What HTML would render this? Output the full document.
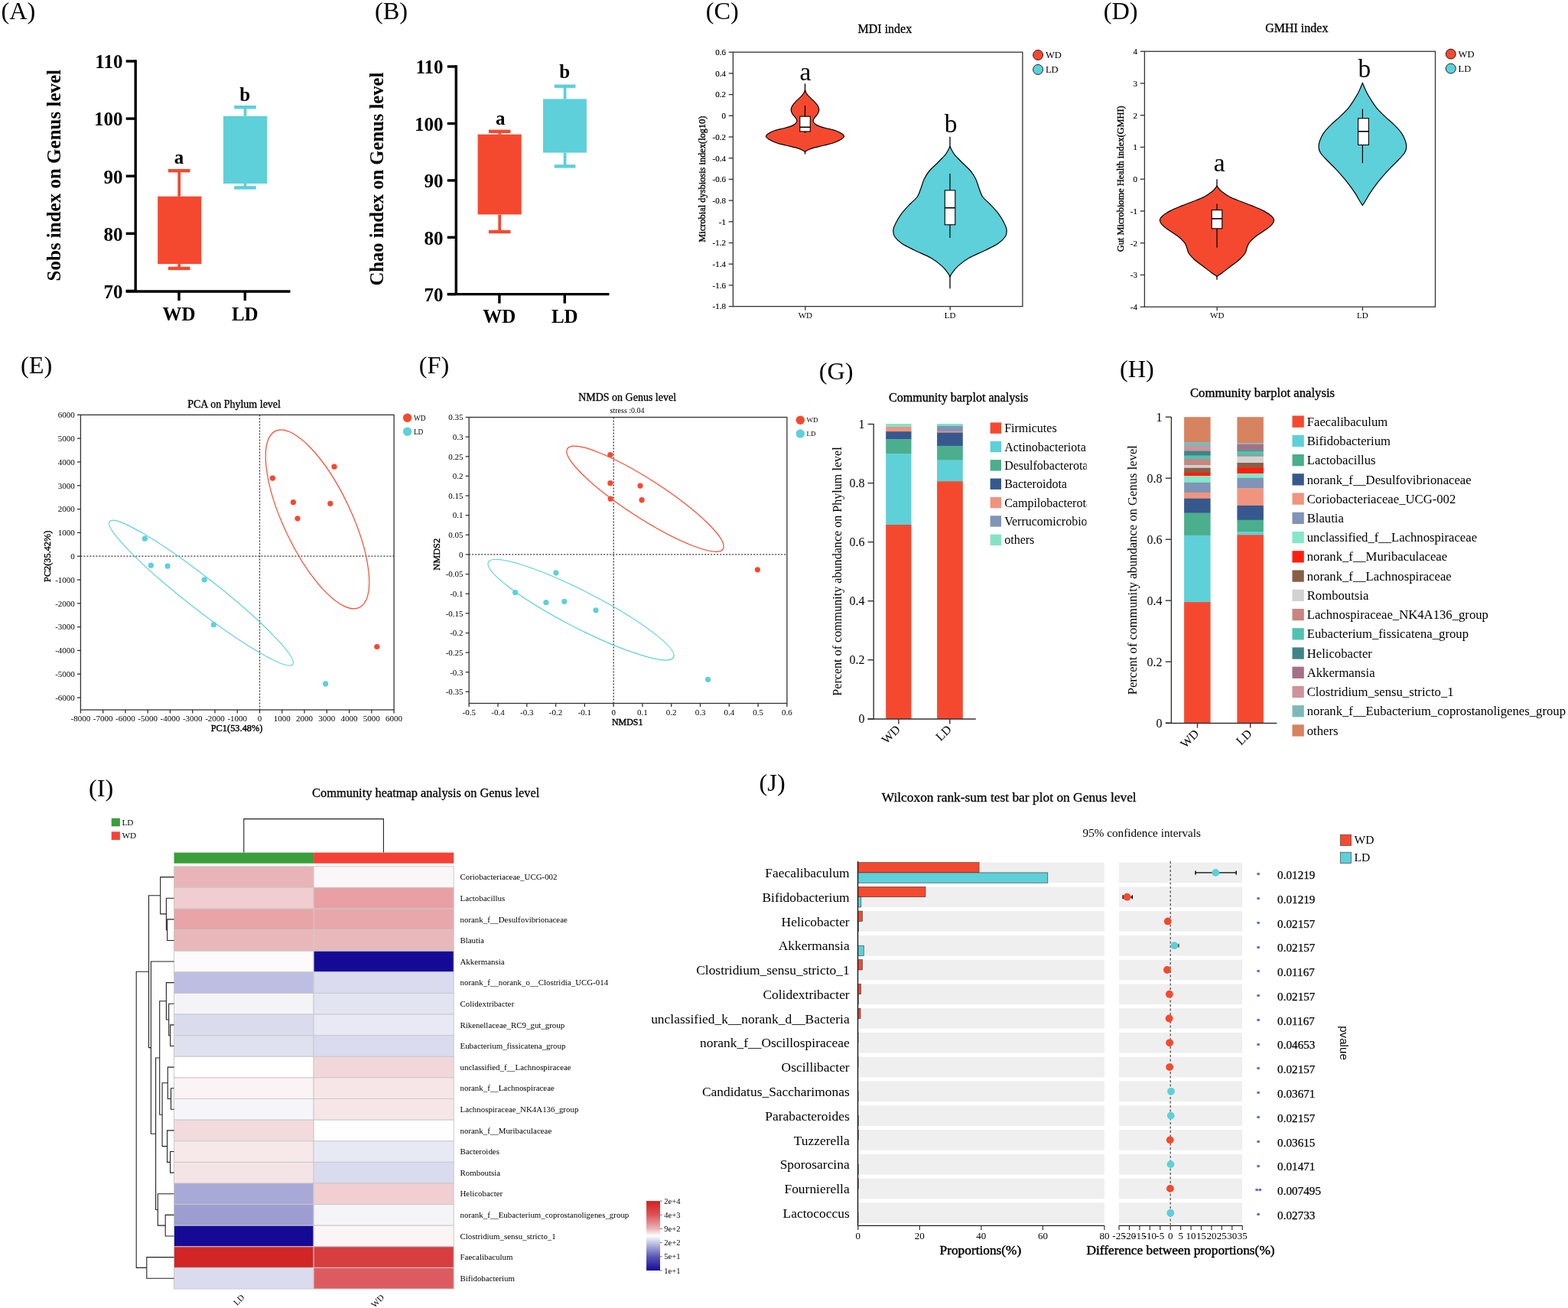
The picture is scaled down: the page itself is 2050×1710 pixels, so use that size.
<!DOCTYPE html>
<html><head><meta charset="utf-8"><title>Figure</title>
<style>
html,body{margin:0;padding:0;background:#fff;}
body{width:2050px;height:1710px;overflow:hidden;}
svg{display:block;}
text{font-family:'Liberation Serif','Times New Roman',serif;fill:#000;}
</style></head><body>
<svg width="2050" height="1710" viewBox="0 0 2050 1710">
<rect width="2050" height="1710" fill="#fff"/>
<text x="1.4" y="25" style="font-size:32.3px;">(A)</text>
<line x1="177.2" y1="78.3" x2="177.2" y2="381" stroke="#000" stroke-width="3.4"/>
<line x1="164.7" y1="381" x2="379.5" y2="381" stroke="#000" stroke-width="3.4"/>
<line x1="164.7" y1="80" x2="177.2" y2="80" stroke="#000" stroke-width="3.4"/>
<text x="160.4" y="89.3" text-anchor="end" style="font-size:25px;font-weight:bold;">110</text>
<line x1="164.7" y1="155.1" x2="177.2" y2="155.1" stroke="#000" stroke-width="3.4"/>
<text x="160.4" y="164.4" text-anchor="end" style="font-size:25px;font-weight:bold;">100</text>
<line x1="164.7" y1="230.2" x2="177.2" y2="230.2" stroke="#000" stroke-width="3.4"/>
<text x="160.4" y="239.5" text-anchor="end" style="font-size:25px;font-weight:bold;">90</text>
<line x1="164.7" y1="305.3" x2="177.2" y2="305.3" stroke="#000" stroke-width="3.4"/>
<text x="160.4" y="314.6" text-anchor="end" style="font-size:25px;font-weight:bold;">80</text>
<line x1="164.7" y1="380.4" x2="177.2" y2="380.4" stroke="#000" stroke-width="3.4"/>
<text x="160.4" y="389.7" text-anchor="end" style="font-size:25px;font-weight:bold;">70</text>
<line x1="234" y1="381" x2="234" y2="393" stroke="#000" stroke-width="3.4"/>
<text x="234" y="419.3" text-anchor="middle" style="font-size:25px;font-weight:bold;">WD</text>
<line x1="320.3" y1="381" x2="320.3" y2="393" stroke="#000" stroke-width="3.4"/>
<text x="320.3" y="419.3" text-anchor="middle" style="font-size:25px;font-weight:bold;">LD</text>
<text transform="translate(79.3 229.2) rotate(-90)" text-anchor="middle" style="font-size:25px;font-weight:bold;">Sobs index on Genus level</text>
<rect x="206.2" y="256.8" width="57.1" height="88.3" fill="#F5492F"/>
<line x1="234.2" y1="223.2" x2="234.2" y2="256.8" stroke="#F5492F" stroke-width="3.7"/>
<line x1="234.2" y1="345.1" x2="234.2" y2="350.9" stroke="#F5492F" stroke-width="3.7"/>
<line x1="219.9" y1="223.2" x2="248.5" y2="223.2" stroke="#F5492F" stroke-width="4.4"/>
<line x1="219.9" y1="350.9" x2="248.5" y2="350.9" stroke="#F5492F" stroke-width="4.4"/>
<text x="233.9" y="214.4" text-anchor="middle" style="font-size:25px;font-weight:bold;">a</text>
<rect x="292" y="151.8" width="57.1" height="88.2" fill="#5DD0D9"/>
<line x1="320.5" y1="140.2" x2="320.5" y2="151.8" stroke="#5DD0D9" stroke-width="3.7"/>
<line x1="320.5" y1="240" x2="320.5" y2="245.4" stroke="#5DD0D9" stroke-width="3.7"/>
<line x1="306.2" y1="140.2" x2="334.8" y2="140.2" stroke="#5DD0D9" stroke-width="4.4"/>
<line x1="306.2" y1="245.4" x2="334.8" y2="245.4" stroke="#5DD0D9" stroke-width="4.4"/>
<text x="320.3" y="132.4" text-anchor="middle" style="font-size:25px;font-weight:bold;">b</text>
<text x="490" y="24.8" style="font-size:32.3px;">(B)</text>
<line x1="596.3" y1="85.3" x2="596.3" y2="384.6" stroke="#000" stroke-width="3.4"/>
<line x1="584.8" y1="384.6" x2="796.5" y2="384.6" stroke="#000" stroke-width="3.4"/>
<line x1="584.8" y1="87" x2="596.3" y2="87" stroke="#000" stroke-width="3.4"/>
<text x="579.5" y="96.3" text-anchor="end" style="font-size:25px;font-weight:bold;">110</text>
<line x1="584.8" y1="161.5" x2="596.3" y2="161.5" stroke="#000" stroke-width="3.4"/>
<text x="579.5" y="170.8" text-anchor="end" style="font-size:25px;font-weight:bold;">100</text>
<line x1="584.8" y1="235.9" x2="596.3" y2="235.9" stroke="#000" stroke-width="3.4"/>
<text x="579.5" y="245.2" text-anchor="end" style="font-size:25px;font-weight:bold;">90</text>
<line x1="584.8" y1="310.3" x2="596.3" y2="310.3" stroke="#000" stroke-width="3.4"/>
<text x="579.5" y="319.6" text-anchor="end" style="font-size:25px;font-weight:bold;">80</text>
<line x1="584.8" y1="384.6" x2="596.3" y2="384.6" stroke="#000" stroke-width="3.4"/>
<text x="579.5" y="393.9" text-anchor="end" style="font-size:25px;font-weight:bold;">70</text>
<line x1="652.9" y1="384.6" x2="652.9" y2="396.6" stroke="#000" stroke-width="3.4"/>
<text x="652.9" y="421.9" text-anchor="middle" style="font-size:25px;font-weight:bold;">WD</text>
<line x1="738.3" y1="384.6" x2="738.3" y2="396.6" stroke="#000" stroke-width="3.4"/>
<text x="738.3" y="421.9" text-anchor="middle" style="font-size:25px;font-weight:bold;">LD</text>
<text transform="translate(501 234.1) rotate(-90)" text-anchor="middle" style="font-size:24.6px;font-weight:bold;">Chao index on Genus level</text>
<rect x="624.6" y="175.7" width="57.1" height="104.7" fill="#F5492F"/>
<line x1="653.2" y1="171.8" x2="653.2" y2="175.7" stroke="#F5492F" stroke-width="3.7"/>
<line x1="653.2" y1="280.4" x2="653.2" y2="303" stroke="#F5492F" stroke-width="3.7"/>
<line x1="638.95" y1="171.8" x2="667.45" y2="171.8" stroke="#F5492F" stroke-width="4.4"/>
<line x1="638.95" y1="303" x2="667.45" y2="303" stroke="#F5492F" stroke-width="4.4"/>
<text x="654.2" y="162.6" text-anchor="middle" style="font-size:25px;font-weight:bold;">a</text>
<rect x="710" y="129.4" width="56.9" height="70.2" fill="#5DD0D9"/>
<line x1="738.6" y1="112.7" x2="738.6" y2="129.4" stroke="#5DD0D9" stroke-width="3.7"/>
<line x1="738.6" y1="199.6" x2="738.6" y2="217.4" stroke="#5DD0D9" stroke-width="3.7"/>
<line x1="724.75" y1="112.7" x2="752.45" y2="112.7" stroke="#5DD0D9" stroke-width="4.4"/>
<line x1="724.75" y1="217.4" x2="752.45" y2="217.4" stroke="#5DD0D9" stroke-width="4.4"/>
<text x="738.3" y="101.6" text-anchor="middle" style="font-size:25px;font-weight:bold;">b</text>
<text x="922.7" y="25" style="font-size:32.3px;">(C)</text>
<text x="1156.9" y="42.5" text-anchor="middle" style="font-size:16px;" stroke="#000" stroke-width="0.3">MDI index</text>
<rect x="958.4" y="68.2" width="378.5" height="332.4" fill="none" stroke="#333" stroke-width="1.3"/>
<line x1="952.7" y1="68.2" x2="958.4" y2="68.2" stroke="#333" stroke-width="1.3"/>
<text x="949" y="72" text-anchor="end" style="font-size:11px;" stroke="#000" stroke-width="0.15">0.6</text>
<line x1="952.7" y1="95.9" x2="958.4" y2="95.9" stroke="#333" stroke-width="1.3"/>
<text x="949" y="99.7" text-anchor="end" style="font-size:11px;" stroke="#000" stroke-width="0.15">0.4</text>
<line x1="952.7" y1="123.6" x2="958.4" y2="123.6" stroke="#333" stroke-width="1.3"/>
<text x="949" y="127.4" text-anchor="end" style="font-size:11px;" stroke="#000" stroke-width="0.15">0.2</text>
<line x1="952.7" y1="151.3" x2="958.4" y2="151.3" stroke="#333" stroke-width="1.3"/>
<text x="949" y="155.1" text-anchor="end" style="font-size:11px;" stroke="#000" stroke-width="0.15">0</text>
<line x1="952.7" y1="179" x2="958.4" y2="179" stroke="#333" stroke-width="1.3"/>
<text x="949" y="182.8" text-anchor="end" style="font-size:11px;" stroke="#000" stroke-width="0.15">-0.2</text>
<line x1="952.7" y1="206.7" x2="958.4" y2="206.7" stroke="#333" stroke-width="1.3"/>
<text x="949" y="210.5" text-anchor="end" style="font-size:11px;" stroke="#000" stroke-width="0.15">-0.4</text>
<line x1="952.7" y1="234.4" x2="958.4" y2="234.4" stroke="#333" stroke-width="1.3"/>
<text x="949" y="238.2" text-anchor="end" style="font-size:11px;" stroke="#000" stroke-width="0.15">-0.6</text>
<line x1="952.7" y1="262.1" x2="958.4" y2="262.1" stroke="#333" stroke-width="1.3"/>
<text x="949" y="265.9" text-anchor="end" style="font-size:11px;" stroke="#000" stroke-width="0.15">-0.8</text>
<line x1="952.7" y1="289.8" x2="958.4" y2="289.8" stroke="#333" stroke-width="1.3"/>
<text x="949" y="293.6" text-anchor="end" style="font-size:11px;" stroke="#000" stroke-width="0.15">-1</text>
<line x1="952.7" y1="317.5" x2="958.4" y2="317.5" stroke="#333" stroke-width="1.3"/>
<text x="949" y="321.3" text-anchor="end" style="font-size:11px;" stroke="#000" stroke-width="0.15">-1.2</text>
<line x1="952.7" y1="345.2" x2="958.4" y2="345.2" stroke="#333" stroke-width="1.3"/>
<text x="949" y="349" text-anchor="end" style="font-size:11px;" stroke="#000" stroke-width="0.15">-1.4</text>
<line x1="952.7" y1="372.9" x2="958.4" y2="372.9" stroke="#333" stroke-width="1.3"/>
<text x="949" y="376.7" text-anchor="end" style="font-size:11px;" stroke="#000" stroke-width="0.15">-1.6</text>
<line x1="952.7" y1="400.6" x2="958.4" y2="400.6" stroke="#333" stroke-width="1.3"/>
<text x="949" y="404.4" text-anchor="end" style="font-size:11px;" stroke="#000" stroke-width="0.15">-1.8</text>
<line x1="1052.8" y1="400.6" x2="1052.8" y2="405.6" stroke="#333" stroke-width="1.3"/>
<text x="1052.8" y="415.6" text-anchor="middle" style="font-size:11px;">WD</text>
<line x1="1242.2" y1="400.6" x2="1242.2" y2="405.6" stroke="#333" stroke-width="1.3"/>
<text x="1242.2" y="415.6" text-anchor="middle" style="font-size:11px;">LD</text>
<text transform="translate(922.4 234.1) rotate(-90)" text-anchor="middle" style="font-size:12.4px;" stroke="#000" stroke-width="0.35">Microbial dysbiosis index(log10)</text>
<circle cx="1357.1" cy="71.9" r="6.5" fill="#F5492F" stroke="#111" stroke-width="0.9"/>
<circle cx="1357.1" cy="90.9" r="6.5" fill="#5DD0D9" stroke="#111" stroke-width="0.9"/>
<text x="1366.9" y="75.9" style="font-size:12.5px;">WD</text>
<text x="1366.9" y="94.9" style="font-size:12.5px;">LD</text>
<path d="M1052.5 117.4 C1052.77 118.08 1053.32 120.12 1054.1 121.5 C1054.88 122.88 1055.53 123.92 1057.2 125.7 C1058.87 127.48 1062.13 130.15 1064.1 132.2 C1066.07 134.25 1067.88 136.08 1069 138 C1070.12 139.92 1070.8 141.87 1070.8 143.7 C1070.8 145.53 1070.05 147.2 1069 149 C1067.95 150.8 1065.48 152.92 1064.5 154.5 C1063.52 156.08 1062.93 157.25 1063.1 158.5 C1063.27 159.75 1064.35 160.98 1065.5 162 C1066.65 163.02 1067.67 163.68 1070 164.6 C1072.33 165.52 1075.75 166.47 1079.5 167.5 C1083.25 168.53 1088.92 169.55 1092.5 170.8 C1096.08 172.05 1099.17 173.72 1101 175 C1102.83 176.28 1103.67 177.33 1103.5 178.5 C1103.33 179.67 1102.27 180.62 1100 182 C1097.73 183.38 1093.65 185.47 1089.9 186.8 C1086.15 188.13 1081.9 188.92 1077.5 190 C1073.1 191.08 1067 192.3 1063.5 193.3 C1060 194.3 1058.33 195.15 1056.5 196 C1054.67 196.85 1053.17 198 1052.5 198.4 C1051.83 198 1050.33 196.85 1048.5 196 C1046.67 195.15 1045 194.3 1041.5 193.3 C1038 192.3 1031.9 191.08 1027.5 190 C1023.1 188.92 1018.85 188.13 1015.1 186.8 C1011.35 185.47 1007.27 183.38 1005 182 C1002.73 180.62 1001.67 179.67 1001.5 178.5 C1001.33 177.33 1002.17 176.28 1004 175 C1005.83 173.72 1008.92 172.05 1012.5 170.8 C1016.08 169.55 1021.75 168.53 1025.5 167.5 C1029.25 166.47 1032.67 165.52 1035 164.6 C1037.33 163.68 1038.35 163.02 1039.5 162 C1040.65 160.98 1041.73 159.75 1041.9 158.5 C1042.07 157.25 1041.48 156.08 1040.5 154.5 C1039.52 152.92 1037.05 150.8 1036 149 C1034.95 147.2 1034.2 145.53 1034.2 143.7 C1034.2 141.87 1034.88 139.92 1036 138 C1037.12 136.08 1038.93 134.25 1040.9 132.2 C1042.87 130.15 1046.13 127.48 1047.8 125.7 C1049.47 123.92 1050.12 122.88 1050.9 121.5 C1051.68 120.12 1052.23 118.08 1052.5 117.4 Z" fill="#F5492F" stroke="#000" stroke-width="1.2"/>
<line x1="1052.5" y1="109.3" x2="1052.5" y2="117.9" stroke="#000" stroke-width="1.3"/>
<line x1="1052.5" y1="197.9" x2="1052.5" y2="201.6" stroke="#000" stroke-width="1.3"/>
<line x1="1052.5" y1="138" x2="1052.5" y2="152.2" stroke="#000" stroke-width="1.2"/>
<line x1="1052.5" y1="171.9" x2="1052.5" y2="174" stroke="#000" stroke-width="1.2"/>
<rect x="1045.8" y="152.2" width="13.5" height="19.7" fill="#fff" stroke="#000" stroke-width="1.1"/>
<line x1="1045.8" y1="166.3" x2="1059.3" y2="166.3" stroke="#000" stroke-width="1.6"/>
<path d="M1242 191.5 C1242.37 192.25 1243.2 194.22 1244.2 196 C1245.2 197.78 1246.62 200.37 1248 202.2 C1249.38 204.03 1250.87 205.28 1252.5 207 C1254.13 208.72 1254.98 209.67 1257.8 212.5 C1260.62 215.33 1266.4 220.37 1269.4 224 C1272.4 227.63 1273.97 230.43 1275.8 234.3 C1277.63 238.17 1278.88 243.33 1280.4 247.2 C1281.92 251.07 1282.65 254.28 1284.9 257.5 C1287.15 260.72 1290.48 262.85 1293.9 266.5 C1297.32 270.15 1302.18 275.1 1305.4 279.4 C1308.62 283.7 1311.42 288.77 1313.2 292.3 C1314.98 295.83 1315.88 297.82 1316.1 300.6 C1316.32 303.38 1316.28 306.1 1314.5 309 C1312.72 311.9 1309.7 315 1305.4 318 C1301.1 321 1295.13 323.78 1288.7 327 C1282.27 330.22 1272.8 333.87 1266.8 337.3 C1260.8 340.73 1256.33 344.38 1252.7 347.6 C1249.07 350.82 1246.78 354.25 1245 356.6 C1243.22 358.95 1242.5 360.85 1242 361.7 C1241.5 360.85 1240.78 358.95 1239 356.6 C1237.22 354.25 1234.93 350.82 1231.3 347.6 C1227.67 344.38 1223.2 340.73 1217.2 337.3 C1211.2 333.87 1201.73 330.22 1195.3 327 C1188.87 323.78 1182.9 321 1178.6 318 C1174.3 315 1171.28 311.9 1169.5 309 C1167.72 306.1 1167.68 303.38 1167.9 300.6 C1168.12 297.82 1169.02 295.83 1170.8 292.3 C1172.58 288.77 1175.38 283.7 1178.6 279.4 C1181.82 275.1 1186.68 270.15 1190.1 266.5 C1193.52 262.85 1196.85 260.72 1199.1 257.5 C1201.35 254.28 1202.08 251.07 1203.6 247.2 C1205.12 243.33 1206.37 238.17 1208.2 234.3 C1210.03 230.43 1211.6 227.63 1214.6 224 C1217.6 220.37 1223.38 215.33 1226.2 212.5 C1229.02 209.67 1229.87 208.72 1231.5 207 C1233.13 205.28 1234.62 204.03 1236 202.2 C1237.38 200.37 1238.8 197.78 1239.8 196 C1240.8 194.22 1241.63 192.25 1242 191.5 Z" fill="#5DD0D9" stroke="#000" stroke-width="1.2"/>
<line x1="1242" y1="178.8" x2="1242" y2="192" stroke="#000" stroke-width="1.3"/>
<line x1="1242" y1="361.2" x2="1242" y2="377.2" stroke="#000" stroke-width="1.3"/>
<line x1="1242" y1="227" x2="1242" y2="248.8" stroke="#000" stroke-width="1.2"/>
<line x1="1242" y1="293.8" x2="1242" y2="310.9" stroke="#000" stroke-width="1.2"/>
<rect x="1235.3" y="248.8" width="13.5" height="45" fill="#fff" stroke="#000" stroke-width="1.1"/>
<line x1="1235.3" y1="271.7" x2="1248.8" y2="271.7" stroke="#000" stroke-width="1.6"/>
<text x="1053" y="104.6" text-anchor="middle" style="font-size:33.5px;">a</text>
<text x="1243" y="173.4" text-anchor="middle" style="font-size:33.5px;">b</text>
<text x="1442.7" y="25" style="font-size:32.3px;">(D)</text>
<text x="1695.3" y="41.6" text-anchor="middle" style="font-size:16px;" stroke="#000" stroke-width="0.3">GMHI index</text>
<rect x="1496.4" y="67.2" width="380.1" height="334" fill="none" stroke="#333" stroke-width="1.3"/>
<line x1="1490.7" y1="67.2" x2="1496.4" y2="67.2" stroke="#333" stroke-width="1.3"/>
<text x="1487" y="71" text-anchor="end" style="font-size:11px;" stroke="#000" stroke-width="0.15">4</text>
<line x1="1490.7" y1="108.95" x2="1496.4" y2="108.95" stroke="#333" stroke-width="1.3"/>
<text x="1487" y="112.75" text-anchor="end" style="font-size:11px;" stroke="#000" stroke-width="0.15">3</text>
<line x1="1490.7" y1="150.7" x2="1496.4" y2="150.7" stroke="#333" stroke-width="1.3"/>
<text x="1487" y="154.5" text-anchor="end" style="font-size:11px;" stroke="#000" stroke-width="0.15">2</text>
<line x1="1490.7" y1="192.45" x2="1496.4" y2="192.45" stroke="#333" stroke-width="1.3"/>
<text x="1487" y="196.25" text-anchor="end" style="font-size:11px;" stroke="#000" stroke-width="0.15">1</text>
<line x1="1490.7" y1="234.2" x2="1496.4" y2="234.2" stroke="#333" stroke-width="1.3"/>
<text x="1487" y="238" text-anchor="end" style="font-size:11px;" stroke="#000" stroke-width="0.15">0</text>
<line x1="1490.7" y1="275.95" x2="1496.4" y2="275.95" stroke="#333" stroke-width="1.3"/>
<text x="1487" y="279.75" text-anchor="end" style="font-size:11px;" stroke="#000" stroke-width="0.15">-1</text>
<line x1="1490.7" y1="317.7" x2="1496.4" y2="317.7" stroke="#333" stroke-width="1.3"/>
<text x="1487" y="321.5" text-anchor="end" style="font-size:11px;" stroke="#000" stroke-width="0.15">-2</text>
<line x1="1490.7" y1="359.45" x2="1496.4" y2="359.45" stroke="#333" stroke-width="1.3"/>
<text x="1487" y="363.25" text-anchor="end" style="font-size:11px;" stroke="#000" stroke-width="0.15">-3</text>
<line x1="1490.7" y1="401.2" x2="1496.4" y2="401.2" stroke="#333" stroke-width="1.3"/>
<text x="1487" y="405" text-anchor="end" style="font-size:11px;" stroke="#000" stroke-width="0.15">-4</text>
<line x1="1591.2" y1="401.2" x2="1591.2" y2="406.2" stroke="#333" stroke-width="1.3"/>
<text x="1591.2" y="416.2" text-anchor="middle" style="font-size:11px;">WD</text>
<line x1="1781.4" y1="401.2" x2="1781.4" y2="406.2" stroke="#333" stroke-width="1.3"/>
<text x="1781.4" y="416.2" text-anchor="middle" style="font-size:11px;">LD</text>
<text transform="translate(1468.5 233.8) rotate(-90)" text-anchor="middle" style="font-size:12.4px;" stroke="#000" stroke-width="0.35">Gut Microbiome Health index(GMHI)</text>
<circle cx="1896.8" cy="70.6" r="6.5" fill="#F5492F" stroke="#111" stroke-width="0.9"/>
<circle cx="1896.8" cy="89.6" r="6.5" fill="#5DD0D9" stroke="#111" stroke-width="0.9"/>
<text x="1906.6" y="74.6" style="font-size:12.5px;">WD</text>
<text x="1906.6" y="93.6" style="font-size:12.5px;">LD</text>
<path d="M1591 243.2 C1591.42 243.75 1592.43 245.3 1593.5 246.5 C1594.57 247.7 1595.07 248.62 1597.4 250.4 C1599.73 252.18 1603.42 255.07 1607.5 257.2 C1611.58 259.33 1616.95 261.22 1621.9 263.2 C1626.85 265.18 1632.1 266.98 1637.2 269.1 C1642.3 271.22 1648.27 273.63 1652.5 275.9 C1656.73 278.17 1660.42 280.73 1662.6 282.7 C1664.78 284.67 1665.45 286.02 1665.6 287.7 C1665.75 289.38 1665.12 290.82 1663.5 292.8 C1661.88 294.78 1659.3 297.05 1655.9 299.6 C1652.5 302.15 1646.78 305.27 1643.1 308.1 C1639.42 310.93 1635.92 314.05 1633.8 316.6 C1631.68 319.15 1631.38 321 1630.4 323.4 C1629.42 325.8 1629.58 328.32 1627.9 331 C1626.22 333.68 1623.42 336.68 1620.3 339.5 C1617.18 342.32 1612.88 345.08 1609.2 347.9 C1605.52 350.72 1600.82 354.47 1598.2 356.4 C1595.58 358.33 1594.7 358.65 1593.5 359.5 C1592.3 360.35 1591.42 361.17 1591 361.5 C1590.58 361.17 1589.7 360.35 1588.5 359.5 C1587.3 358.65 1586.42 358.33 1583.8 356.4 C1581.18 354.47 1576.48 350.72 1572.8 347.9 C1569.12 345.08 1564.82 342.32 1561.7 339.5 C1558.58 336.68 1555.78 333.68 1554.1 331 C1552.42 328.32 1552.58 325.8 1551.6 323.4 C1550.62 321 1550.32 319.15 1548.2 316.6 C1546.08 314.05 1542.58 310.93 1538.9 308.1 C1535.22 305.27 1529.5 302.15 1526.1 299.6 C1522.7 297.05 1520.12 294.78 1518.5 292.8 C1516.88 290.82 1516.25 289.38 1516.4 287.7 C1516.55 286.02 1517.22 284.67 1519.4 282.7 C1521.58 280.73 1525.27 278.17 1529.5 275.9 C1533.73 273.63 1539.7 271.22 1544.8 269.1 C1549.9 266.98 1555.15 265.18 1560.1 263.2 C1565.05 261.22 1570.42 259.33 1574.5 257.2 C1578.58 255.07 1582.27 252.18 1584.6 250.4 C1586.93 248.62 1587.43 247.7 1588.5 246.5 C1589.57 245.3 1590.58 243.75 1591 243.2 Z" fill="#F5492F" stroke="#000" stroke-width="1.2"/>
<line x1="1591" y1="234.2" x2="1591" y2="243.7" stroke="#000" stroke-width="1.3"/>
<line x1="1591" y1="361" x2="1591" y2="365.8" stroke="#000" stroke-width="1.3"/>
<line x1="1591" y1="266.5" x2="1591" y2="274.6" stroke="#000" stroke-width="1.2"/>
<line x1="1591" y1="298.8" x2="1591" y2="323.8" stroke="#000" stroke-width="1.2"/>
<rect x="1584.2" y="274.6" width="13.6" height="24.2" fill="#fff" stroke="#000" stroke-width="1.1"/>
<line x1="1584.2" y1="285.9" x2="1597.8" y2="285.9" stroke="#000" stroke-width="1.6"/>
<path d="M1781.4 108.4 C1782.32 110.52 1784.93 117.23 1786.9 121.1 C1788.87 124.97 1790.92 128.1 1793.2 131.6 C1795.48 135.1 1797.62 138.6 1800.6 142.1 C1803.58 145.6 1807.42 149.08 1811.1 152.6 C1814.78 156.12 1819.2 159.68 1822.7 163.2 C1826.2 166.72 1829.65 170.2 1832.1 173.7 C1834.55 177.2 1836.3 181.05 1837.4 184.2 C1838.5 187.35 1838.88 189.97 1838.7 192.6 C1838.52 195.23 1838.27 197.02 1836.3 200 C1834.33 202.98 1830.23 206.98 1826.9 210.5 C1823.57 214.02 1819.63 217.58 1816.3 221.1 C1812.97 224.62 1809.87 228.1 1806.9 231.6 C1803.93 235.1 1801.13 238.6 1798.5 242.1 C1795.87 245.6 1793.38 249.08 1791.1 252.6 C1788.82 256.12 1786.42 260.57 1784.8 263.2 C1783.18 265.83 1781.97 267.53 1781.4 268.4 C1780.83 267.53 1779.62 265.83 1778 263.2 C1776.38 260.57 1773.98 256.12 1771.7 252.6 C1769.42 249.08 1766.93 245.6 1764.3 242.1 C1761.67 238.6 1758.87 235.1 1755.9 231.6 C1752.93 228.1 1749.83 224.62 1746.5 221.1 C1743.17 217.58 1739.23 214.02 1735.9 210.5 C1732.57 206.98 1728.47 202.98 1726.5 200 C1724.53 197.02 1724.28 195.23 1724.1 192.6 C1723.92 189.97 1724.3 187.35 1725.4 184.2 C1726.5 181.05 1728.25 177.2 1730.7 173.7 C1733.15 170.2 1736.6 166.72 1740.1 163.2 C1743.6 159.68 1748.02 156.12 1751.7 152.6 C1755.38 149.08 1759.22 145.6 1762.2 142.1 C1765.18 138.6 1767.32 135.1 1769.6 131.6 C1771.88 128.1 1773.93 124.97 1775.9 121.1 C1777.87 117.23 1780.48 110.52 1781.4 108.4 Z" fill="#5DD0D9" stroke="#000" stroke-width="1.2"/>
<line x1="1781.4" y1="142.6" x2="1781.4" y2="154.7" stroke="#000" stroke-width="1.2"/>
<line x1="1781.4" y1="189.5" x2="1781.4" y2="213.2" stroke="#000" stroke-width="1.2"/>
<rect x="1775.6" y="154.7" width="13.8" height="34.8" fill="#fff" stroke="#000" stroke-width="1.1"/>
<line x1="1775.6" y1="171.8" x2="1789.4" y2="171.8" stroke="#000" stroke-width="1.6"/>
<text x="1594.3" y="223.6" text-anchor="middle" style="font-size:33.5px;">a</text>
<text x="1783.8" y="101.2" text-anchor="middle" style="font-size:33.5px;">b</text>
<text x="26.95" y="487.6" style="font-size:32.3px;">(E)</text>
<rect x="105.4" y="542.4" width="409.7" height="385.6" fill="none" stroke="#333" stroke-width="1.3"/>
<line x1="339.5" y1="542.4" x2="339.5" y2="928" stroke="#333" stroke-width="1.3" stroke-dasharray="2 2"/>
<line x1="105.4" y1="727.2" x2="515.1" y2="727.2" stroke="#333" stroke-width="1.3" stroke-dasharray="2 2"/>
<line x1="105.4" y1="928" x2="105.4" y2="932.5" stroke="#333" stroke-width="1.3"/>
<text x="105.4" y="943" text-anchor="middle" style="font-size:11px;">-8000</text>
<line x1="134.66" y1="928" x2="134.66" y2="932.5" stroke="#333" stroke-width="1.3"/>
<text x="134.66" y="943" text-anchor="middle" style="font-size:11px;">-7000</text>
<line x1="163.93" y1="928" x2="163.93" y2="932.5" stroke="#333" stroke-width="1.3"/>
<text x="163.93" y="943" text-anchor="middle" style="font-size:11px;">-6000</text>
<line x1="193.19" y1="928" x2="193.19" y2="932.5" stroke="#333" stroke-width="1.3"/>
<text x="193.19" y="943" text-anchor="middle" style="font-size:11px;">-5000</text>
<line x1="222.46" y1="928" x2="222.46" y2="932.5" stroke="#333" stroke-width="1.3"/>
<text x="222.46" y="943" text-anchor="middle" style="font-size:11px;">-4000</text>
<line x1="251.72" y1="928" x2="251.72" y2="932.5" stroke="#333" stroke-width="1.3"/>
<text x="251.72" y="943" text-anchor="middle" style="font-size:11px;">-3000</text>
<line x1="280.98" y1="928" x2="280.98" y2="932.5" stroke="#333" stroke-width="1.3"/>
<text x="280.98" y="943" text-anchor="middle" style="font-size:11px;">-2000</text>
<line x1="310.25" y1="928" x2="310.25" y2="932.5" stroke="#333" stroke-width="1.3"/>
<text x="310.25" y="943" text-anchor="middle" style="font-size:11px;">-1000</text>
<line x1="339.51" y1="928" x2="339.51" y2="932.5" stroke="#333" stroke-width="1.3"/>
<text x="339.51" y="943" text-anchor="middle" style="font-size:11px;">0</text>
<line x1="368.78" y1="928" x2="368.78" y2="932.5" stroke="#333" stroke-width="1.3"/>
<text x="368.78" y="943" text-anchor="middle" style="font-size:11px;">1000</text>
<line x1="398.04" y1="928" x2="398.04" y2="932.5" stroke="#333" stroke-width="1.3"/>
<text x="398.04" y="943" text-anchor="middle" style="font-size:11px;">2000</text>
<line x1="427.3" y1="928" x2="427.3" y2="932.5" stroke="#333" stroke-width="1.3"/>
<text x="427.3" y="943" text-anchor="middle" style="font-size:11px;">3000</text>
<line x1="456.57" y1="928" x2="456.57" y2="932.5" stroke="#333" stroke-width="1.3"/>
<text x="456.57" y="943" text-anchor="middle" style="font-size:11px;">4000</text>
<line x1="485.83" y1="928" x2="485.83" y2="932.5" stroke="#333" stroke-width="1.3"/>
<text x="485.83" y="943" text-anchor="middle" style="font-size:11px;">5000</text>
<line x1="515.1" y1="928" x2="515.1" y2="932.5" stroke="#333" stroke-width="1.3"/>
<text x="515.1" y="943" text-anchor="middle" style="font-size:11px;">6000</text>
<line x1="100.9" y1="542.34" x2="105.4" y2="542.34" stroke="#333" stroke-width="1.3"/>
<text x="97.8" y="546.14" text-anchor="end" style="font-size:11px;">6000</text>
<line x1="100.9" y1="573.15" x2="105.4" y2="573.15" stroke="#333" stroke-width="1.3"/>
<text x="97.8" y="576.95" text-anchor="end" style="font-size:11px;">5000</text>
<line x1="100.9" y1="603.96" x2="105.4" y2="603.96" stroke="#333" stroke-width="1.3"/>
<text x="97.8" y="607.76" text-anchor="end" style="font-size:11px;">4000</text>
<line x1="100.9" y1="634.77" x2="105.4" y2="634.77" stroke="#333" stroke-width="1.3"/>
<text x="97.8" y="638.57" text-anchor="end" style="font-size:11px;">3000</text>
<line x1="100.9" y1="665.58" x2="105.4" y2="665.58" stroke="#333" stroke-width="1.3"/>
<text x="97.8" y="669.38" text-anchor="end" style="font-size:11px;">2000</text>
<line x1="100.9" y1="696.39" x2="105.4" y2="696.39" stroke="#333" stroke-width="1.3"/>
<text x="97.8" y="700.19" text-anchor="end" style="font-size:11px;">1000</text>
<line x1="100.9" y1="727.2" x2="105.4" y2="727.2" stroke="#333" stroke-width="1.3"/>
<text x="97.8" y="731" text-anchor="end" style="font-size:11px;">0</text>
<line x1="100.9" y1="758.01" x2="105.4" y2="758.01" stroke="#333" stroke-width="1.3"/>
<text x="97.8" y="761.81" text-anchor="end" style="font-size:11px;">-1000</text>
<line x1="100.9" y1="788.82" x2="105.4" y2="788.82" stroke="#333" stroke-width="1.3"/>
<text x="97.8" y="792.62" text-anchor="end" style="font-size:11px;">-2000</text>
<line x1="100.9" y1="819.63" x2="105.4" y2="819.63" stroke="#333" stroke-width="1.3"/>
<text x="97.8" y="823.43" text-anchor="end" style="font-size:11px;">-3000</text>
<line x1="100.9" y1="850.44" x2="105.4" y2="850.44" stroke="#333" stroke-width="1.3"/>
<text x="97.8" y="854.24" text-anchor="end" style="font-size:11px;">-4000</text>
<line x1="100.9" y1="881.25" x2="105.4" y2="881.25" stroke="#333" stroke-width="1.3"/>
<text x="97.8" y="885.05" text-anchor="end" style="font-size:11px;">-5000</text>
<line x1="100.9" y1="912.06" x2="105.4" y2="912.06" stroke="#333" stroke-width="1.3"/>
<text x="97.8" y="915.86" text-anchor="end" style="font-size:11px;">-6000</text>
<text x="306.1" y="533.1" text-anchor="middle" style="font-size:14px;" stroke="#000" stroke-width="0.3">PCA on Phylum level</text>
<text x="309.6" y="955.7" text-anchor="middle" style="font-size:12.4px;" stroke="#000" stroke-width="0.4">PC1(53.48%)</text>
<text transform="translate(65.7 727.3) rotate(-90)" text-anchor="middle" style="font-size:12.3px;" stroke="#000" stroke-width="0.4">PC2(35.42%)</text>
<ellipse cx="0" cy="0" rx="127.8" ry="44.1" fill="none" stroke="#F5492F" stroke-width="1.2" transform="translate(415 678.8) rotate(64.6)"/>
<ellipse cx="0" cy="0" rx="151.9" ry="20.6" fill="none" stroke="#5DD0D9" stroke-width="1.2" transform="translate(263 775.2) rotate(38)"/>
<circle cx="356.4" cy="625.1" r="3.6" fill="#F5492F"/>
<circle cx="437" cy="610.2" r="3.6" fill="#F5492F"/>
<circle cx="383.4" cy="656.7" r="3.6" fill="#F5492F"/>
<circle cx="431.8" cy="658.3" r="3.6" fill="#F5492F"/>
<circle cx="389" cy="677.8" r="3.6" fill="#F5492F"/>
<circle cx="492.8" cy="845.5" r="3.6" fill="#F5492F"/>
<circle cx="189.4" cy="704.2" r="3.6" fill="#5DD0D9"/>
<circle cx="197.4" cy="739.2" r="3.6" fill="#5DD0D9"/>
<circle cx="219.1" cy="740.1" r="3.6" fill="#5DD0D9"/>
<circle cx="267.2" cy="757.8" r="3.6" fill="#5DD0D9"/>
<circle cx="279.3" cy="816.7" r="3.6" fill="#5DD0D9"/>
<circle cx="425.6" cy="893.9" r="3.6" fill="#5DD0D9"/>
<circle cx="532.6" cy="546.3" r="5.7" fill="#F5492F"/>
<circle cx="532.6" cy="564.2" r="5.7" fill="#5DD0D9"/>
<text x="540.9" y="549.5" style="font-size:9.3px;">WD</text>
<text x="540.9" y="567.5" style="font-size:9.3px;">LD</text>
<text x="547.7" y="487.6" style="font-size:32.3px;">(F)</text>
<rect x="613.2" y="545.5" width="415.7" height="374" fill="none" stroke="#333" stroke-width="1.3"/>
<line x1="802.2" y1="545.5" x2="802.2" y2="919.5" stroke="#333" stroke-width="1.3" stroke-dasharray="2 2"/>
<line x1="613.2" y1="724.95" x2="1028.9" y2="724.95" stroke="#333" stroke-width="1.3" stroke-dasharray="2 2"/>
<line x1="613.2" y1="919.5" x2="613.2" y2="924" stroke="#333" stroke-width="1.3"/>
<text x="613.2" y="934.5" text-anchor="middle" style="font-size:11px;">-0.5</text>
<line x1="650.99" y1="919.5" x2="650.99" y2="924" stroke="#333" stroke-width="1.3"/>
<text x="650.99" y="934.5" text-anchor="middle" style="font-size:11px;">-0.4</text>
<line x1="688.78" y1="919.5" x2="688.78" y2="924" stroke="#333" stroke-width="1.3"/>
<text x="688.78" y="934.5" text-anchor="middle" style="font-size:11px;">-0.3</text>
<line x1="726.57" y1="919.5" x2="726.57" y2="924" stroke="#333" stroke-width="1.3"/>
<text x="726.57" y="934.5" text-anchor="middle" style="font-size:11px;">-0.2</text>
<line x1="764.36" y1="919.5" x2="764.36" y2="924" stroke="#333" stroke-width="1.3"/>
<text x="764.36" y="934.5" text-anchor="middle" style="font-size:11px;">-0.1</text>
<line x1="802.15" y1="919.5" x2="802.15" y2="924" stroke="#333" stroke-width="1.3"/>
<text x="802.15" y="934.5" text-anchor="middle" style="font-size:11px;">0</text>
<line x1="839.94" y1="919.5" x2="839.94" y2="924" stroke="#333" stroke-width="1.3"/>
<text x="839.94" y="934.5" text-anchor="middle" style="font-size:11px;">0.1</text>
<line x1="877.73" y1="919.5" x2="877.73" y2="924" stroke="#333" stroke-width="1.3"/>
<text x="877.73" y="934.5" text-anchor="middle" style="font-size:11px;">0.2</text>
<line x1="915.52" y1="919.5" x2="915.52" y2="924" stroke="#333" stroke-width="1.3"/>
<text x="915.52" y="934.5" text-anchor="middle" style="font-size:11px;">0.3</text>
<line x1="953.31" y1="919.5" x2="953.31" y2="924" stroke="#333" stroke-width="1.3"/>
<text x="953.31" y="934.5" text-anchor="middle" style="font-size:11px;">0.4</text>
<line x1="991.1" y1="919.5" x2="991.1" y2="924" stroke="#333" stroke-width="1.3"/>
<text x="991.1" y="934.5" text-anchor="middle" style="font-size:11px;">0.5</text>
<line x1="1028.89" y1="919.5" x2="1028.89" y2="924" stroke="#333" stroke-width="1.3"/>
<text x="1028.89" y="934.5" text-anchor="middle" style="font-size:11px;">0.6</text>
<line x1="608.7" y1="545.5" x2="613.2" y2="545.5" stroke="#333" stroke-width="1.3"/>
<text x="605.6" y="549.3" text-anchor="end" style="font-size:11px;">0.35</text>
<line x1="608.7" y1="571.14" x2="613.2" y2="571.14" stroke="#333" stroke-width="1.3"/>
<text x="605.6" y="574.94" text-anchor="end" style="font-size:11px;">0.3</text>
<line x1="608.7" y1="596.77" x2="613.2" y2="596.77" stroke="#333" stroke-width="1.3"/>
<text x="605.6" y="600.57" text-anchor="end" style="font-size:11px;">0.25</text>
<line x1="608.7" y1="622.41" x2="613.2" y2="622.41" stroke="#333" stroke-width="1.3"/>
<text x="605.6" y="626.21" text-anchor="end" style="font-size:11px;">0.2</text>
<line x1="608.7" y1="648.04" x2="613.2" y2="648.04" stroke="#333" stroke-width="1.3"/>
<text x="605.6" y="651.84" text-anchor="end" style="font-size:11px;">0.15</text>
<line x1="608.7" y1="673.68" x2="613.2" y2="673.68" stroke="#333" stroke-width="1.3"/>
<text x="605.6" y="677.48" text-anchor="end" style="font-size:11px;">0.1</text>
<line x1="608.7" y1="699.32" x2="613.2" y2="699.32" stroke="#333" stroke-width="1.3"/>
<text x="605.6" y="703.12" text-anchor="end" style="font-size:11px;">0.05</text>
<line x1="608.7" y1="724.95" x2="613.2" y2="724.95" stroke="#333" stroke-width="1.3"/>
<text x="605.6" y="728.75" text-anchor="end" style="font-size:11px;">0</text>
<line x1="608.7" y1="750.59" x2="613.2" y2="750.59" stroke="#333" stroke-width="1.3"/>
<text x="605.6" y="754.39" text-anchor="end" style="font-size:11px;">-0.05</text>
<line x1="608.7" y1="776.22" x2="613.2" y2="776.22" stroke="#333" stroke-width="1.3"/>
<text x="605.6" y="780.02" text-anchor="end" style="font-size:11px;">-0.1</text>
<line x1="608.7" y1="801.86" x2="613.2" y2="801.86" stroke="#333" stroke-width="1.3"/>
<text x="605.6" y="805.66" text-anchor="end" style="font-size:11px;">-0.15</text>
<line x1="608.7" y1="827.5" x2="613.2" y2="827.5" stroke="#333" stroke-width="1.3"/>
<text x="605.6" y="831.3" text-anchor="end" style="font-size:11px;">-0.2</text>
<line x1="608.7" y1="853.13" x2="613.2" y2="853.13" stroke="#333" stroke-width="1.3"/>
<text x="605.6" y="856.93" text-anchor="end" style="font-size:11px;">-0.25</text>
<line x1="608.7" y1="878.77" x2="613.2" y2="878.77" stroke="#333" stroke-width="1.3"/>
<text x="605.6" y="882.57" text-anchor="end" style="font-size:11px;">-0.3</text>
<line x1="608.7" y1="904.4" x2="613.2" y2="904.4" stroke="#333" stroke-width="1.3"/>
<text x="605.6" y="908.2" text-anchor="end" style="font-size:11px;">-0.35</text>
<text x="820.1" y="524.4" text-anchor="middle" style="font-size:14px;" stroke="#000" stroke-width="0.3">NMDS on Genus level</text>
<text x="820.1" y="539.6" text-anchor="middle" style="font-size:10px;">stress :0.04</text>
<text x="820.2" y="948" text-anchor="middle" style="font-size:11.9px;" stroke="#000" stroke-width="0.4">NMDS1</text>
<text transform="translate(575.4 724.8) rotate(-90)" text-anchor="middle" style="font-size:12.3px;" stroke="#000" stroke-width="0.4">NMDS2</text>
<ellipse cx="0" cy="0" rx="121" ry="25.05" fill="none" stroke="#F5492F" stroke-width="1.2" transform="translate(843.5 652.25) rotate(32.85)"/>
<ellipse cx="0" cy="0" rx="136" ry="23.9" fill="none" stroke="#5DD0D9" stroke-width="1.2" transform="translate(759.5 797.2) rotate(27.2)"/>
<circle cx="797.9" cy="594.5" r="3.6" fill="#F5492F"/>
<circle cx="797.9" cy="631.7" r="3.6" fill="#F5492F"/>
<circle cx="798.2" cy="652.1" r="3.6" fill="#F5492F"/>
<circle cx="837" cy="635.1" r="3.6" fill="#F5492F"/>
<circle cx="839.1" cy="653.7" r="3.6" fill="#F5492F"/>
<circle cx="990.4" cy="744.8" r="3.6" fill="#F5492F"/>
<circle cx="726.9" cy="748.8" r="3.6" fill="#5DD0D9"/>
<circle cx="673.6" cy="774.6" r="3.6" fill="#5DD0D9"/>
<circle cx="713.9" cy="787.6" r="3.6" fill="#5DD0D9"/>
<circle cx="737.8" cy="786.3" r="3.6" fill="#5DD0D9"/>
<circle cx="779" cy="797.8" r="3.6" fill="#5DD0D9"/>
<circle cx="925.6" cy="888.3" r="3.6" fill="#5DD0D9"/>
<circle cx="1046.3" cy="549.3" r="5.7" fill="#F5492F"/>
<circle cx="1046.3" cy="567" r="5.7" fill="#5DD0D9"/>
<text x="1054.6" y="552.4" style="font-size:9px;">WD</text>
<text x="1054.6" y="570.1" style="font-size:9px;">LD</text>
<text x="1070.7" y="495.8" style="font-size:32.3px;">(G)</text>
<text x="1253.1" y="524.6" text-anchor="middle" style="font-size:16.1px;" stroke="#000" stroke-width="0.35">Community barplot analysis</text>
<rect x="1158.2" y="554" width="33.3" height="4.3" fill="#84E3C6"/>
<rect x="1158.2" y="558" width="33.3" height="6.4" fill="#F0937D"/>
<rect x="1158.2" y="564.1" width="33.3" height="10.4" fill="#36588E"/>
<rect x="1158.2" y="574.2" width="33.3" height="19.2" fill="#4BAE8C"/>
<rect x="1158.2" y="593.1" width="33.3" height="93.2" fill="#5ED0D8"/>
<rect x="1158.2" y="686" width="33.3" height="254.1" fill="#F5492F"/>
<rect x="1225.1" y="554" width="33.7" height="3.1" fill="#84E3C6"/>
<rect x="1225.1" y="556.8" width="33.7" height="7.4" fill="#8094B8"/>
<rect x="1225.1" y="563.9" width="33.7" height="1.9" fill="#F0937D"/>
<rect x="1225.1" y="565.5" width="33.7" height="17.6" fill="#36588E"/>
<rect x="1225.1" y="582.8" width="33.7" height="19" fill="#4BAE8C"/>
<rect x="1225.1" y="601.5" width="33.7" height="28" fill="#5ED0D8"/>
<rect x="1225.1" y="629.2" width="33.7" height="310.9" fill="#F5492F"/>
<line x1="1142.2" y1="554" x2="1142.2" y2="940.4" stroke="#333" stroke-width="1.4"/>
<line x1="1134.6" y1="940" x2="1275.8" y2="940" stroke="#333" stroke-width="1.4"/>
<line x1="1134.5" y1="554.5" x2="1142.2" y2="554.5" stroke="#333" stroke-width="1.4"/>
<text x="1130.5" y="560" text-anchor="end" style="font-size:16px;">1</text>
<line x1="1134.5" y1="631.56" x2="1142.2" y2="631.56" stroke="#333" stroke-width="1.4"/>
<text x="1130.5" y="637.06" text-anchor="end" style="font-size:16px;">0.8</text>
<line x1="1134.5" y1="708.62" x2="1142.2" y2="708.62" stroke="#333" stroke-width="1.4"/>
<text x="1130.5" y="714.12" text-anchor="end" style="font-size:16px;">0.6</text>
<line x1="1134.5" y1="785.68" x2="1142.2" y2="785.68" stroke="#333" stroke-width="1.4"/>
<text x="1130.5" y="791.18" text-anchor="end" style="font-size:16px;">0.4</text>
<line x1="1134.5" y1="862.74" x2="1142.2" y2="862.74" stroke="#333" stroke-width="1.4"/>
<text x="1130.5" y="868.24" text-anchor="end" style="font-size:16px;">0.2</text>
<line x1="1134.5" y1="939.8" x2="1142.2" y2="939.8" stroke="#333" stroke-width="1.4"/>
<text x="1130.5" y="945.3" text-anchor="end" style="font-size:16px;">0</text>
<line x1="1174.9" y1="940" x2="1174.9" y2="946.5" stroke="#333" stroke-width="1.4"/>
<text transform="translate(1177.9 954.5) rotate(-45)" text-anchor="end" style="font-size:16px;">WD</text>
<line x1="1241.8" y1="940" x2="1241.8" y2="946.5" stroke="#333" stroke-width="1.4"/>
<text transform="translate(1244.8 954.5) rotate(-45)" text-anchor="end" style="font-size:16px;">LD</text>
<text transform="translate(1100 747) rotate(-90)" text-anchor="middle" style="font-size:16.1px;">Percent of community abundance on Phylum level</text>
<clipPath id="gclip"><rect x="1290" y="540" width="130.5" height="180"/></clipPath><g clip-path="url(#gclip)">
<rect x="1294.6" y="552.4" width="14.4" height="14.4" fill="#F5492F"/>
<text x="1313.2" y="565.2" style="font-size:16px;">Firmicutes</text>
<rect x="1294.6" y="576.77" width="14.4" height="14.4" fill="#5ED0D8"/>
<text x="1313.2" y="589.57" style="font-size:16px;">Actinobacteriota</text>
<rect x="1294.6" y="601.14" width="14.4" height="14.4" fill="#4BAE8C"/>
<text x="1313.2" y="613.94" style="font-size:16px;">Desulfobacterota</text>
<rect x="1294.6" y="625.51" width="14.4" height="14.4" fill="#36588E"/>
<text x="1313.2" y="638.31" style="font-size:16px;">Bacteroidota</text>
<rect x="1294.6" y="649.88" width="14.4" height="14.4" fill="#F0937D"/>
<text x="1313.2" y="662.68" style="font-size:16px;">Campilobacterota</text>
<rect x="1294.6" y="674.25" width="14.4" height="14.4" fill="#8094B8"/>
<text x="1313.2" y="687.05" style="font-size:16px;">Verrucomicrobiota</text>
<rect x="1294.6" y="698.62" width="14.4" height="14.4" fill="#84E3C6"/>
<text x="1313.2" y="711.42" style="font-size:16px;">others</text>
</g>
<text x="1464" y="492.8" style="font-size:32.3px;">(H)</text>
<text x="1650.5" y="519" text-anchor="middle" style="font-size:16.7px;" stroke="#000" stroke-width="0.35">Community barplot analysis</text>
<rect x="1548.1" y="545.2" width="34.5" height="33.2" fill="#D8835F"/>
<rect x="1548.1" y="578.1" width="34.5" height="5.2" fill="#7DB9BB"/>
<rect x="1548.1" y="583" width="34.5" height="6.7" fill="#CF939B"/>
<rect x="1548.1" y="589.4" width="34.5" height="6.5" fill="#3E8488"/>
<rect x="1548.1" y="595.6" width="34.5" height="4.7" fill="#50C2B1"/>
<rect x="1548.1" y="600" width="34.5" height="8.4" fill="#C9857F"/>
<rect x="1548.1" y="608.1" width="34.5" height="3.9" fill="#D2D2D2"/>
<rect x="1548.1" y="611.7" width="34.5" height="6.4" fill="#8A5F45"/>
<rect x="1548.1" y="617.8" width="34.5" height="4.7" fill="#FF1E0E"/>
<rect x="1548.1" y="622.2" width="34.5" height="8.9" fill="#86E6CA"/>
<rect x="1548.1" y="630.8" width="34.5" height="13.4" fill="#8094B8"/>
<rect x="1548.1" y="643.9" width="34.5" height="8.1" fill="#F0957D"/>
<rect x="1548.1" y="651.7" width="34.5" height="19.2" fill="#36588E"/>
<rect x="1548.1" y="670.6" width="34.5" height="29.5" fill="#4BAE8C"/>
<rect x="1548.1" y="699.8" width="34.5" height="87.6" fill="#5ED0D8"/>
<rect x="1548.1" y="787.1" width="34.5" height="158.3" fill="#F5492F"/>
<rect x="1617.4" y="545.2" width="34.5" height="34.3" fill="#D8835F"/>
<rect x="1617.4" y="579.2" width="34.5" height="2" fill="#7DB9BB"/>
<rect x="1617.4" y="580.9" width="34.5" height="7.7" fill="#A66F86"/>
<rect x="1617.4" y="588.3" width="34.5" height="1.7" fill="#3E8488"/>
<rect x="1617.4" y="589.7" width="34.5" height="5.6" fill="#50C2B1"/>
<rect x="1617.4" y="595" width="34.5" height="2" fill="#C9857F"/>
<rect x="1617.4" y="596.7" width="34.5" height="8.6" fill="#D2D2D2"/>
<rect x="1617.4" y="605" width="34.5" height="6.4" fill="#8A5F45"/>
<rect x="1617.4" y="611.1" width="34.5" height="8.1" fill="#FF1E0E"/>
<rect x="1617.4" y="618.9" width="34.5" height="6.2" fill="#86E6CA"/>
<rect x="1617.4" y="624.8" width="34.5" height="13.6" fill="#8094B8"/>
<rect x="1617.4" y="638.1" width="34.5" height="23.1" fill="#F0957D"/>
<rect x="1617.4" y="660.9" width="34.5" height="19.1" fill="#36588E"/>
<rect x="1617.4" y="679.7" width="34.5" height="15.6" fill="#4BAE8C"/>
<rect x="1617.4" y="695" width="34.5" height="4.5" fill="#5ED0D8"/>
<rect x="1617.4" y="699.2" width="34.5" height="246.2" fill="#F5492F"/>
<line x1="1531.4" y1="545" x2="1531.4" y2="945.8" stroke="#333" stroke-width="1.4"/>
<line x1="1524" y1="945.6" x2="1669.4" y2="945.6" stroke="#333" stroke-width="1.5"/>
<line x1="1523.8" y1="545.2" x2="1531.4" y2="545.2" stroke="#333" stroke-width="1.4"/>
<text x="1519.5" y="550.7" text-anchor="end" style="font-size:16px;">1</text>
<line x1="1523.8" y1="625.18" x2="1531.4" y2="625.18" stroke="#333" stroke-width="1.4"/>
<text x="1519.5" y="630.68" text-anchor="end" style="font-size:16px;">0.8</text>
<line x1="1523.8" y1="705.16" x2="1531.4" y2="705.16" stroke="#333" stroke-width="1.4"/>
<text x="1519.5" y="710.66" text-anchor="end" style="font-size:16px;">0.6</text>
<line x1="1523.8" y1="785.14" x2="1531.4" y2="785.14" stroke="#333" stroke-width="1.4"/>
<text x="1519.5" y="790.64" text-anchor="end" style="font-size:16px;">0.4</text>
<line x1="1523.8" y1="865.12" x2="1531.4" y2="865.12" stroke="#333" stroke-width="1.4"/>
<text x="1519.5" y="870.62" text-anchor="end" style="font-size:16px;">0.2</text>
<line x1="1523.8" y1="945.1" x2="1531.4" y2="945.1" stroke="#333" stroke-width="1.4"/>
<text x="1519.5" y="950.6" text-anchor="end" style="font-size:16px;">0</text>
<line x1="1565.5" y1="945.1" x2="1565.5" y2="951.6" stroke="#333" stroke-width="1.4"/>
<text transform="translate(1568.5 960) rotate(-45)" text-anchor="end" style="font-size:16px;">WD</text>
<line x1="1634.7" y1="945.1" x2="1634.7" y2="951.6" stroke="#333" stroke-width="1.4"/>
<text transform="translate(1637.7 960) rotate(-45)" text-anchor="end" style="font-size:16px;">LD</text>
<text transform="translate(1486.1 745.2) rotate(-90)" text-anchor="middle" style="font-size:16.6px;">Percent of community abundance on Genus level</text>
<rect x="1689.5" y="543.5" width="15.3" height="15.3" fill="#F5492F"/>
<text x="1708.7" y="556.8" style="font-size:16.7px;">Faecalibaculum</text>
<rect x="1689.5" y="568.74" width="15.3" height="15.3" fill="#5ED0D8"/>
<text x="1708.7" y="582.04" style="font-size:16.7px;">Bifidobacterium</text>
<rect x="1689.5" y="593.98" width="15.3" height="15.3" fill="#4BAE8C"/>
<text x="1708.7" y="607.28" style="font-size:16.7px;">Lactobacillus</text>
<rect x="1689.5" y="619.22" width="15.3" height="15.3" fill="#36588E"/>
<text x="1708.7" y="632.52" style="font-size:16.7px;">norank_f__Desulfovibrionaceae</text>
<rect x="1689.5" y="644.46" width="15.3" height="15.3" fill="#F0957D"/>
<text x="1708.7" y="657.76" style="font-size:16.7px;">Coriobacteriaceae_UCG-002</text>
<rect x="1689.5" y="669.7" width="15.3" height="15.3" fill="#8094B8"/>
<text x="1708.7" y="683" style="font-size:16.7px;">Blautia</text>
<rect x="1689.5" y="694.94" width="15.3" height="15.3" fill="#86E6CA"/>
<text x="1708.7" y="708.24" style="font-size:16.7px;">unclassified_f__Lachnospiraceae</text>
<rect x="1689.5" y="720.18" width="15.3" height="15.3" fill="#FF1E0E"/>
<text x="1708.7" y="733.48" style="font-size:16.7px;">norank_f__Muribaculaceae</text>
<rect x="1689.5" y="745.42" width="15.3" height="15.3" fill="#8A5F45"/>
<text x="1708.7" y="758.72" style="font-size:16.7px;">norank_f__Lachnospiraceae</text>
<rect x="1689.5" y="770.66" width="15.3" height="15.3" fill="#D2D2D2"/>
<text x="1708.7" y="783.96" style="font-size:16.7px;">Romboutsia</text>
<rect x="1689.5" y="795.9" width="15.3" height="15.3" fill="#C9857F"/>
<text x="1708.7" y="809.2" style="font-size:16.7px;">Lachnospiraceae_NK4A136_group</text>
<rect x="1689.5" y="821.14" width="15.3" height="15.3" fill="#50C2B1"/>
<text x="1708.7" y="834.44" style="font-size:16.7px;">Eubacterium_fissicatena_group</text>
<rect x="1689.5" y="846.38" width="15.3" height="15.3" fill="#3E8488"/>
<text x="1708.7" y="859.68" style="font-size:16.7px;">Helicobacter</text>
<rect x="1689.5" y="871.62" width="15.3" height="15.3" fill="#A66F86"/>
<text x="1708.7" y="884.92" style="font-size:16.7px;">Akkermansia</text>
<rect x="1689.5" y="896.86" width="15.3" height="15.3" fill="#CF939B"/>
<text x="1708.7" y="910.16" style="font-size:16.7px;">Clostridium_sensu_stricto_1</text>
<rect x="1689.5" y="922.1" width="15.3" height="15.3" fill="#7DB9BB"/>
<text x="1708.7" y="935.4" style="font-size:16.7px;">norank_f__Eubacterium_coprostanoligenes_group</text>
<rect x="1689.5" y="947.34" width="15.3" height="15.3" fill="#D8835F"/>
<text x="1708.7" y="960.64" style="font-size:16.7px;">others</text>
<text x="115.9" y="1040.8" style="font-size:32.3px;">(I)</text>
<text x="556.7" y="1042.3" text-anchor="middle" style="font-size:16.4px;" stroke="#000" stroke-width="0.3">Community heatmap analysis on Genus level</text>
<rect x="145.7" y="1069.7" width="11.2" height="10.6" fill="#3A9E3A"/>
<text x="159.4" y="1078.7" style="font-size:11.2px;">LD</text>
<rect x="145.7" y="1087.3" width="11.2" height="10.7" fill="#F44336"/>
<text x="159.4" y="1096.3" style="font-size:11.2px;">WD</text>
<path d="M318.8 1114.6 V1070.6 H501.4 V1114.6" fill="none" stroke="#222" stroke-width="1.1"/>
<rect x="227.5" y="1114.6" width="182.6" height="14.1" fill="#3A9E3A"/>
<rect x="410.1" y="1114.6" width="183.1" height="14.1" fill="#F44336"/>
<rect x="227.5" y="1132.8" width="182.6" height="27.61" fill="#E9B4B8" stroke="#CACACA" stroke-width="1"/>
<rect x="410.1" y="1132.8" width="183.1" height="27.61" fill="#FBF6F7" stroke="#CACACA" stroke-width="1"/>
<text x="601.5" y="1150.31" style="font-size:10.9px;">Coriobacteriaceae_UCG-002</text>
<rect x="227.5" y="1160.41" width="182.6" height="27.61" fill="#F0CDD0" stroke="#CACACA" stroke-width="1"/>
<rect x="410.1" y="1160.41" width="183.1" height="27.61" fill="#E8A0A4" stroke="#CACACA" stroke-width="1"/>
<text x="601.5" y="1177.91" style="font-size:10.9px;">Lactobacillus</text>
<rect x="227.5" y="1188.02" width="182.6" height="27.61" fill="#E8A4A7" stroke="#CACACA" stroke-width="1"/>
<rect x="410.1" y="1188.02" width="183.1" height="27.61" fill="#E8A8AB" stroke="#CACACA" stroke-width="1"/>
<text x="601.5" y="1205.53" style="font-size:10.9px;">norank_f__Desulfovibrionaceae</text>
<rect x="227.5" y="1215.63" width="182.6" height="27.61" fill="#E9B7BA" stroke="#CACACA" stroke-width="1"/>
<rect x="410.1" y="1215.63" width="183.1" height="27.61" fill="#E9B8BB" stroke="#CACACA" stroke-width="1"/>
<text x="601.5" y="1233.13" style="font-size:10.9px;">Blautia</text>
<rect x="227.5" y="1243.24" width="182.6" height="27.61" fill="#FCFAFB" stroke="#CACACA" stroke-width="1"/>
<rect x="410.1" y="1243.24" width="183.1" height="27.61" fill="#150A96" stroke="#CACACA" stroke-width="1"/>
<text x="601.5" y="1260.75" style="font-size:10.9px;">Akkermansia</text>
<rect x="227.5" y="1270.85" width="182.6" height="27.61" fill="#BEBEE2" stroke="#CACACA" stroke-width="1"/>
<rect x="410.1" y="1270.85" width="183.1" height="27.61" fill="#DADBEE" stroke="#CACACA" stroke-width="1"/>
<text x="601.5" y="1288.36" style="font-size:10.9px;">norank_f__norank_o__Clostridia_UCG-014</text>
<rect x="227.5" y="1298.46" width="182.6" height="27.61" fill="#F3F3F8" stroke="#CACACA" stroke-width="1"/>
<rect x="410.1" y="1298.46" width="183.1" height="27.61" fill="#E3E4F2" stroke="#CACACA" stroke-width="1"/>
<text x="601.5" y="1315.97" style="font-size:10.9px;">Colidextribacter</text>
<rect x="227.5" y="1326.07" width="182.6" height="27.61" fill="#DADCEE" stroke="#CACACA" stroke-width="1"/>
<rect x="410.1" y="1326.07" width="183.1" height="27.61" fill="#E8E9F4" stroke="#CACACA" stroke-width="1"/>
<text x="601.5" y="1343.58" style="font-size:10.9px;">Rikenellaceae_RC9_gut_group</text>
<rect x="227.5" y="1353.68" width="182.6" height="27.61" fill="#DFE0F0" stroke="#CACACA" stroke-width="1"/>
<rect x="410.1" y="1353.68" width="183.1" height="27.61" fill="#DADBEE" stroke="#CACACA" stroke-width="1"/>
<text x="601.5" y="1371.18" style="font-size:10.9px;">Eubacterium_fissicatena_group</text>
<rect x="227.5" y="1381.29" width="182.6" height="27.61" fill="#FFFFFF" stroke="#CACACA" stroke-width="1"/>
<rect x="410.1" y="1381.29" width="183.1" height="27.61" fill="#F2D7DA" stroke="#CACACA" stroke-width="1"/>
<text x="601.5" y="1398.8" style="font-size:10.9px;">unclassified_f__Lachnospiraceae</text>
<rect x="227.5" y="1408.9" width="182.6" height="27.61" fill="#FBF3F4" stroke="#CACACA" stroke-width="1"/>
<rect x="410.1" y="1408.9" width="183.1" height="27.61" fill="#F7E6E8" stroke="#CACACA" stroke-width="1"/>
<text x="601.5" y="1426.41" style="font-size:10.9px;">norank_f__Lachnospiraceae</text>
<rect x="227.5" y="1436.51" width="182.6" height="27.61" fill="#F5F5FA" stroke="#CACACA" stroke-width="1"/>
<rect x="410.1" y="1436.51" width="183.1" height="27.61" fill="#F6E6E8" stroke="#CACACA" stroke-width="1"/>
<text x="601.5" y="1454.02" style="font-size:10.9px;">Lachnospiraceae_NK4A136_group</text>
<rect x="227.5" y="1464.12" width="182.6" height="27.61" fill="#F2DADD" stroke="#CACACA" stroke-width="1"/>
<rect x="410.1" y="1464.12" width="183.1" height="27.61" fill="#FEFEFE" stroke="#CACACA" stroke-width="1"/>
<text x="601.5" y="1481.62" style="font-size:10.9px;">norank_f__Muribaculaceae</text>
<rect x="227.5" y="1491.73" width="182.6" height="27.61" fill="#F7E8EA" stroke="#CACACA" stroke-width="1"/>
<rect x="410.1" y="1491.73" width="183.1" height="27.61" fill="#E7E9F4" stroke="#CACACA" stroke-width="1"/>
<text x="601.5" y="1509.24" style="font-size:10.9px;">Bacteroides</text>
<rect x="227.5" y="1519.34" width="182.6" height="27.61" fill="#F5E4E6" stroke="#CACACA" stroke-width="1"/>
<rect x="410.1" y="1519.34" width="183.1" height="27.61" fill="#DADBEE" stroke="#CACACA" stroke-width="1"/>
<text x="601.5" y="1536.85" style="font-size:10.9px;">Romboutsia</text>
<rect x="227.5" y="1546.95" width="182.6" height="27.61" fill="#A9A9D8" stroke="#CACACA" stroke-width="1"/>
<rect x="410.1" y="1546.95" width="183.1" height="27.61" fill="#F1CED2" stroke="#CACACA" stroke-width="1"/>
<text x="601.5" y="1564.45" style="font-size:10.9px;">Helicobacter</text>
<rect x="227.5" y="1574.56" width="182.6" height="27.61" fill="#9D9DD2" stroke="#CACACA" stroke-width="1"/>
<rect x="410.1" y="1574.56" width="183.1" height="27.61" fill="#F4F4F9" stroke="#CACACA" stroke-width="1"/>
<text x="601.5" y="1592.07" style="font-size:10.9px;">norank_f__Eubacterium_coprostanoligenes_group</text>
<rect x="227.5" y="1602.17" width="182.6" height="27.61" fill="#150A96" stroke="#CACACA" stroke-width="1"/>
<rect x="410.1" y="1602.17" width="183.1" height="27.61" fill="#FBF5F6" stroke="#CACACA" stroke-width="1"/>
<text x="601.5" y="1619.68" style="font-size:10.9px;">Clostridium_sensu_stricto_1</text>
<rect x="227.5" y="1629.78" width="182.6" height="27.61" fill="#D22525" stroke="#CACACA" stroke-width="1"/>
<rect x="410.1" y="1629.78" width="183.1" height="27.61" fill="#D83D40" stroke="#CACACA" stroke-width="1"/>
<text x="601.5" y="1647.29" style="font-size:10.9px;">Faecalibaculum</text>
<rect x="227.5" y="1657.39" width="182.6" height="27.61" fill="#DADBEE" stroke="#CACACA" stroke-width="1"/>
<rect x="410.1" y="1657.39" width="183.1" height="27.61" fill="#DD5B60" stroke="#CACACA" stroke-width="1"/>
<text x="601.5" y="1674.89" style="font-size:10.9px;">Bifidobacterium</text>
<path d="M227.5 1201.83 H218.7 V1229.43 H227.5" fill="none" stroke="#222" stroke-width="1.1"/>
<path d="M227.5 1174.21 H217.4 V1215.63 H218.7" fill="none" stroke="#222" stroke-width="1.1"/>
<path d="M227.5 1146.61 H209.7 V1194.92 H217.4" fill="none" stroke="#222" stroke-width="1.1"/>
<path d="M227.5 1339.88 H222.7 V1367.48 H227.5" fill="none" stroke="#222" stroke-width="1.1"/>
<path d="M227.5 1312.26 H220.7 V1353.68 H222.7" fill="none" stroke="#222" stroke-width="1.1"/>
<path d="M227.5 1284.65 H217.4 V1332.97 H220.7" fill="none" stroke="#222" stroke-width="1.1"/>
<path d="M227.5 1422.7 H223.5 V1450.32 H227.5" fill="none" stroke="#222" stroke-width="1.1"/>
<path d="M227.5 1395.1 H219.3 V1436.51 H223.5" fill="none" stroke="#222" stroke-width="1.1"/>
<path d="M227.5 1505.53 H222.6 V1533.14 H227.5" fill="none" stroke="#222" stroke-width="1.1"/>
<path d="M227.5 1477.92 H218.6 V1519.34 H222.6" fill="none" stroke="#222" stroke-width="1.1"/>
<path d="M219.3 1415.8 H212.1 V1498.63 H218.6" fill="none" stroke="#222" stroke-width="1.1"/>
<path d="M217.4 1308.81 H208.7 V1457.22 H212.1" fill="none" stroke="#222" stroke-width="1.1"/>
<path d="M227.5 1588.37 H216.2 V1615.97 H227.5" fill="none" stroke="#222" stroke-width="1.1"/>
<path d="M227.5 1560.75 H206.3 V1602.17 H216.2" fill="none" stroke="#222" stroke-width="1.1"/>
<path d="M208.7 1383.02 H203.6 V1581.46 H206.3" fill="none" stroke="#222" stroke-width="1.1"/>
<path d="M227.5 1257.05 H197.4 V1482.24 H203.6" fill="none" stroke="#222" stroke-width="1.1"/>
<path d="M209.7 1170.76 H194.5 V1369.64 H197.4" fill="none" stroke="#222" stroke-width="1.1"/>
<path d="M227.5 1643.59 H191.8 V1671.19 H227.5" fill="none" stroke="#222" stroke-width="1.1"/>
<path d="M194.5 1270.2 H178.2 V1657.39 H191.8" fill="none" stroke="#222" stroke-width="1.1"/>
<text transform="translate(320.3 1696.7) rotate(-45)" text-anchor="end" style="font-size:11.2px;">LD</text>
<text transform="translate(502.9 1696.7) rotate(-45)" text-anchor="end" style="font-size:11.2px;">WD</text>
<defs><linearGradient id="hg" x1="0" y1="0" x2="0" y2="1"><stop offset="0" stop-color="#D41E1E"/><stop offset="0.2" stop-color="#DC5458"/><stop offset="0.4" stop-color="#ECB4B7"/><stop offset="0.5" stop-color="#FFFFFF"/><stop offset="0.6" stop-color="#C4C5E6"/><stop offset="0.8" stop-color="#5A57B8"/><stop offset="1" stop-color="#140A96"/></linearGradient></defs>
<rect x="845.1" y="1570.1" width="17.9" height="90.9" fill="url(#hg)"/>
<line x1="863" y1="1570.1" x2="865.8" y2="1570.1" stroke="#555" stroke-width="0.8"/>
<text x="868.3" y="1573.7" style="font-size:10.5px;">2e+4</text>
<line x1="863" y1="1588.28" x2="865.8" y2="1588.28" stroke="#555" stroke-width="0.8"/>
<text x="868.3" y="1591.88" style="font-size:10.5px;">4e+3</text>
<line x1="863" y1="1606.46" x2="865.8" y2="1606.46" stroke="#555" stroke-width="0.8"/>
<text x="868.3" y="1610.06" style="font-size:10.5px;">9e+2</text>
<line x1="863" y1="1624.64" x2="865.8" y2="1624.64" stroke="#555" stroke-width="0.8"/>
<text x="868.3" y="1628.24" style="font-size:10.5px;">2e+2</text>
<line x1="863" y1="1642.82" x2="865.8" y2="1642.82" stroke="#555" stroke-width="0.8"/>
<text x="868.3" y="1646.42" style="font-size:10.5px;">5e+1</text>
<line x1="863" y1="1661" x2="865.8" y2="1661" stroke="#555" stroke-width="0.8"/>
<text x="868.3" y="1664.6" style="font-size:10.5px;">1e+1</text>
<text x="992.6" y="1034.3" style="font-size:32.3px;">(J)</text>
<text x="1319.2" y="1048.1" text-anchor="middle" style="font-size:17.4px;" stroke="#000" stroke-width="0.3">Wilcoxon rank-sum test bar plot on Genus level</text>
<text x="1492.8" y="1093.8" text-anchor="middle" style="font-size:15.2px;">95% confidence intervals</text>
<rect x="1121.8" y="1127.6" width="322.1" height="26.6" fill="#EFEFEF"/>
<rect x="1462.9" y="1127.6" width="161.2" height="26.6" fill="#EFEFEF"/>
<rect x="1121.8" y="1127.6" width="158.23" height="13.3" fill="#F5492F" stroke="#333" stroke-width="0.6"/>
<rect x="1121.8" y="1140.9" width="248.02" height="13.3" fill="#5DD0D9" stroke="#333" stroke-width="0.6"/>
<text x="1110.7" y="1147.1" text-anchor="end" style="font-size:17.45px;">Faecalibaculum</text>
<text x="1645.2" y="1147.3" text-anchor="middle" style="font-size:8.5px;fill:#3B5CA0;" stroke="#3B5CA0" stroke-width="0.4">*</text>
<text x="1670.1" y="1149.1" style="font-size:15.2px;" stroke="#000" stroke-width="0.25">0.01219</text>
<rect x="1121.8" y="1159.37" width="322.1" height="26.6" fill="#EFEFEF"/>
<rect x="1462.9" y="1159.37" width="161.2" height="26.6" fill="#EFEFEF"/>
<rect x="1121.8" y="1159.37" width="88.17" height="13.3" fill="#F5492F" stroke="#333" stroke-width="0.6"/>
<rect x="1121.8" y="1172.67" width="4.03" height="13.3" fill="#5DD0D9" stroke="#333" stroke-width="0.6"/>
<text x="1110.7" y="1178.87" text-anchor="end" style="font-size:17.45px;">Bifidobacterium</text>
<text x="1645.2" y="1179.07" text-anchor="middle" style="font-size:8.5px;fill:#3B5CA0;" stroke="#3B5CA0" stroke-width="0.4">*</text>
<text x="1670.1" y="1180.87" style="font-size:15.2px;" stroke="#000" stroke-width="0.25">0.01219</text>
<rect x="1121.8" y="1191.14" width="322.1" height="26.6" fill="#EFEFEF"/>
<rect x="1462.9" y="1191.14" width="161.2" height="26.6" fill="#EFEFEF"/>
<rect x="1121.8" y="1191.14" width="5.64" height="13.3" fill="#F5492F" stroke="#333" stroke-width="0.6"/>
<rect x="1121.8" y="1204.44" width="0.6" height="13.3" fill="#5DD0D9" stroke="#333" stroke-width="0.6"/>
<text x="1110.7" y="1210.64" text-anchor="end" style="font-size:17.45px;">Helicobacter</text>
<text x="1645.2" y="1210.84" text-anchor="middle" style="font-size:8.5px;fill:#3B5CA0;" stroke="#3B5CA0" stroke-width="0.4">*</text>
<text x="1670.1" y="1212.64" style="font-size:15.2px;" stroke="#000" stroke-width="0.25">0.02157</text>
<rect x="1121.8" y="1222.91" width="322.1" height="26.6" fill="#EFEFEF"/>
<rect x="1462.9" y="1222.91" width="161.2" height="26.6" fill="#EFEFEF"/>
<rect x="1121.8" y="1236.21" width="7.45" height="13.3" fill="#5DD0D9" stroke="#333" stroke-width="0.6"/>
<text x="1110.7" y="1242.41" text-anchor="end" style="font-size:17.45px;">Akkermansia</text>
<text x="1645.2" y="1242.61" text-anchor="middle" style="font-size:8.5px;fill:#3B5CA0;" stroke="#3B5CA0" stroke-width="0.4">*</text>
<text x="1670.1" y="1244.41" style="font-size:15.2px;" stroke="#000" stroke-width="0.25">0.02157</text>
<rect x="1121.8" y="1254.68" width="322.1" height="26.6" fill="#EFEFEF"/>
<rect x="1462.9" y="1254.68" width="161.2" height="26.6" fill="#EFEFEF"/>
<rect x="1121.8" y="1254.68" width="5.64" height="13.3" fill="#F5492F" stroke="#333" stroke-width="0.6"/>
<text x="1110.7" y="1274.18" text-anchor="end" style="font-size:17.45px;">Clostridium_sensu_stricto_1</text>
<text x="1645.2" y="1274.38" text-anchor="middle" style="font-size:8.5px;fill:#3B5CA0;" stroke="#3B5CA0" stroke-width="0.4">*</text>
<text x="1670.1" y="1276.18" style="font-size:15.2px;" stroke="#000" stroke-width="0.25">0.01167</text>
<rect x="1121.8" y="1286.45" width="322.1" height="26.6" fill="#EFEFEF"/>
<rect x="1462.9" y="1286.45" width="161.2" height="26.6" fill="#EFEFEF"/>
<rect x="1121.8" y="1286.45" width="3.62" height="13.3" fill="#F5492F" stroke="#333" stroke-width="0.6"/>
<rect x="1121.8" y="1299.75" width="0.4" height="13.3" fill="#5DD0D9" stroke="#333" stroke-width="0.6"/>
<text x="1110.7" y="1305.95" text-anchor="end" style="font-size:17.45px;">Colidextribacter</text>
<text x="1645.2" y="1306.15" text-anchor="middle" style="font-size:8.5px;fill:#3B5CA0;" stroke="#3B5CA0" stroke-width="0.4">*</text>
<text x="1670.1" y="1307.95" style="font-size:15.2px;" stroke="#000" stroke-width="0.25">0.02157</text>
<rect x="1121.8" y="1318.22" width="322.1" height="26.6" fill="#EFEFEF"/>
<rect x="1462.9" y="1318.22" width="161.2" height="26.6" fill="#EFEFEF"/>
<rect x="1121.8" y="1318.22" width="3.22" height="13.3" fill="#F5492F" stroke="#333" stroke-width="0.6"/>
<text x="1110.7" y="1337.72" text-anchor="end" style="font-size:17.45px;">unclassified_k__norank_d__Bacteria</text>
<text x="1645.2" y="1337.92" text-anchor="middle" style="font-size:8.5px;fill:#3B5CA0;" stroke="#3B5CA0" stroke-width="0.4">*</text>
<text x="1670.1" y="1339.72" style="font-size:15.2px;" stroke="#000" stroke-width="0.25">0.01167</text>
<rect x="1121.8" y="1349.99" width="322.1" height="26.6" fill="#EFEFEF"/>
<rect x="1462.9" y="1349.99" width="161.2" height="26.6" fill="#EFEFEF"/>
<rect x="1121.8" y="1349.99" width="0.2" height="13.3" fill="#F5492F" stroke="#333" stroke-width="0.6"/>
<text x="1110.7" y="1369.49" text-anchor="end" style="font-size:17.45px;">norank_f__Oscillospiraceae</text>
<text x="1645.2" y="1369.69" text-anchor="middle" style="font-size:8.5px;fill:#3B5CA0;" stroke="#3B5CA0" stroke-width="0.4">*</text>
<text x="1670.1" y="1371.49" style="font-size:15.2px;" stroke="#000" stroke-width="0.25">0.04653</text>
<rect x="1121.8" y="1381.76" width="322.1" height="26.6" fill="#EFEFEF"/>
<rect x="1462.9" y="1381.76" width="161.2" height="26.6" fill="#EFEFEF"/>
<rect x="1121.8" y="1381.76" width="0.2" height="13.3" fill="#F5492F" stroke="#333" stroke-width="0.6"/>
<text x="1110.7" y="1401.26" text-anchor="end" style="font-size:17.45px;">Oscillibacter</text>
<text x="1645.2" y="1401.46" text-anchor="middle" style="font-size:8.5px;fill:#3B5CA0;" stroke="#3B5CA0" stroke-width="0.4">*</text>
<text x="1670.1" y="1403.26" style="font-size:15.2px;" stroke="#000" stroke-width="0.25">0.02157</text>
<rect x="1121.8" y="1413.53" width="322.1" height="26.6" fill="#EFEFEF"/>
<rect x="1462.9" y="1413.53" width="161.2" height="26.6" fill="#EFEFEF"/>
<rect x="1121.8" y="1426.83" width="0.2" height="13.3" fill="#5DD0D9" stroke="#333" stroke-width="0.6"/>
<text x="1110.7" y="1433.03" text-anchor="end" style="font-size:17.45px;">Candidatus_Saccharimonas</text>
<text x="1645.2" y="1433.23" text-anchor="middle" style="font-size:8.5px;fill:#3B5CA0;" stroke="#3B5CA0" stroke-width="0.4">*</text>
<text x="1670.1" y="1435.03" style="font-size:15.2px;" stroke="#000" stroke-width="0.25">0.03671</text>
<rect x="1121.8" y="1445.3" width="322.1" height="26.6" fill="#EFEFEF"/>
<rect x="1462.9" y="1445.3" width="161.2" height="26.6" fill="#EFEFEF"/>
<rect x="1121.8" y="1458.6" width="0.4" height="13.3" fill="#5DD0D9" stroke="#333" stroke-width="0.6"/>
<text x="1110.7" y="1464.8" text-anchor="end" style="font-size:17.45px;">Parabacteroides</text>
<text x="1645.2" y="1465" text-anchor="middle" style="font-size:8.5px;fill:#3B5CA0;" stroke="#3B5CA0" stroke-width="0.4">*</text>
<text x="1670.1" y="1466.8" style="font-size:15.2px;" stroke="#000" stroke-width="0.25">0.02157</text>
<rect x="1121.8" y="1477.07" width="322.1" height="26.6" fill="#EFEFEF"/>
<rect x="1462.9" y="1477.07" width="161.2" height="26.6" fill="#EFEFEF"/>
<rect x="1121.8" y="1477.07" width="0.4" height="13.3" fill="#F5492F" stroke="#333" stroke-width="0.6"/>
<text x="1110.7" y="1496.57" text-anchor="end" style="font-size:17.45px;">Tuzzerella</text>
<text x="1645.2" y="1496.77" text-anchor="middle" style="font-size:8.5px;fill:#3B5CA0;" stroke="#3B5CA0" stroke-width="0.4">*</text>
<text x="1670.1" y="1498.57" style="font-size:15.2px;" stroke="#000" stroke-width="0.25">0.03615</text>
<rect x="1121.8" y="1508.84" width="322.1" height="26.6" fill="#EFEFEF"/>
<rect x="1462.9" y="1508.84" width="161.2" height="26.6" fill="#EFEFEF"/>
<rect x="1121.8" y="1522.14" width="0.4" height="13.3" fill="#5DD0D9" stroke="#333" stroke-width="0.6"/>
<text x="1110.7" y="1528.34" text-anchor="end" style="font-size:17.45px;">Sporosarcina</text>
<text x="1645.2" y="1528.54" text-anchor="middle" style="font-size:8.5px;fill:#3B5CA0;" stroke="#3B5CA0" stroke-width="0.4">*</text>
<text x="1670.1" y="1530.34" style="font-size:15.2px;" stroke="#000" stroke-width="0.25">0.01471</text>
<rect x="1121.8" y="1540.61" width="322.1" height="26.6" fill="#EFEFEF"/>
<rect x="1462.9" y="1540.61" width="161.2" height="26.6" fill="#EFEFEF"/>
<rect x="1121.8" y="1540.61" width="0.4" height="13.3" fill="#F5492F" stroke="#333" stroke-width="0.6"/>
<text x="1110.7" y="1560.11" text-anchor="end" style="font-size:17.45px;">Fournierella</text>
<text x="1645.2" y="1560.31" text-anchor="middle" style="font-size:8.5px;fill:#3B5CA0;" stroke="#3B5CA0" stroke-width="0.4">**</text>
<text x="1670.1" y="1562.11" style="font-size:15.2px;" stroke="#000" stroke-width="0.25">0.007495</text>
<rect x="1121.8" y="1572.38" width="322.1" height="26.6" fill="#EFEFEF"/>
<rect x="1462.9" y="1572.38" width="161.2" height="26.6" fill="#EFEFEF"/>
<rect x="1121.8" y="1585.68" width="0.2" height="13.3" fill="#5DD0D9" stroke="#333" stroke-width="0.6"/>
<text x="1110.7" y="1591.88" text-anchor="end" style="font-size:17.45px;">Lactococcus</text>
<text x="1645.2" y="1592.08" text-anchor="middle" style="font-size:8.5px;fill:#3B5CA0;" stroke="#3B5CA0" stroke-width="0.4">*</text>
<text x="1670.1" y="1593.88" style="font-size:15.2px;" stroke="#000" stroke-width="0.25">0.02733</text>
<line x1="1530.2" y1="1125.9" x2="1530.2" y2="1601" stroke="#555" stroke-width="1.3" stroke-dasharray="3 2.5"/>
<line x1="1562.98" y1="1140.9" x2="1616.17" y2="1140.9" stroke="#000" stroke-width="1.4"/>
<line x1="1562.98" y1="1138.4" x2="1562.98" y2="1143.4" stroke="#000" stroke-width="1.4"/>
<line x1="1616.17" y1="1138.4" x2="1616.17" y2="1143.4" stroke="#000" stroke-width="1.4"/>
<circle cx="1589.31" cy="1140.9" r="4.9" fill="#5DD0D9"/>
<line x1="1468.14" y1="1172.67" x2="1480.23" y2="1172.67" stroke="#000" stroke-width="1.4"/>
<line x1="1468.14" y1="1170.17" x2="1468.14" y2="1175.17" stroke="#000" stroke-width="1.4"/>
<line x1="1480.23" y1="1170.17" x2="1480.23" y2="1175.17" stroke="#000" stroke-width="1.4"/>
<circle cx="1473.51" cy="1172.67" r="4.9" fill="#F5492F"/>
<circle cx="1526.71" cy="1204.44" r="4.9" fill="#F5492F"/>
<line x1="1535.3" y1="1236.21" x2="1540.95" y2="1236.21" stroke="#000" stroke-width="1.4"/>
<line x1="1540.95" y1="1233.71" x2="1540.95" y2="1238.71" stroke="#222" stroke-width="1.1"/>
<circle cx="1535.3" cy="1236.21" r="4.9" fill="#5DD0D9"/>
<circle cx="1525.9" cy="1267.98" r="4.9" fill="#F5492F"/>
<circle cx="1528.86" cy="1299.75" r="4.9" fill="#F5492F"/>
<circle cx="1528.59" cy="1331.52" r="4.9" fill="#F5492F"/>
<circle cx="1529.13" cy="1363.29" r="4.9" fill="#F5492F"/>
<circle cx="1529.13" cy="1395.06" r="4.9" fill="#F5492F"/>
<circle cx="1531.01" cy="1426.83" r="4.9" fill="#5DD0D9"/>
<circle cx="1530.74" cy="1458.6" r="4.9" fill="#5DD0D9"/>
<circle cx="1529.66" cy="1490.37" r="4.9" fill="#F5492F"/>
<circle cx="1530.47" cy="1522.14" r="4.9" fill="#5DD0D9"/>
<circle cx="1529.93" cy="1553.91" r="4.9" fill="#F5492F"/>
<circle cx="1530.33" cy="1585.68" r="4.9" fill="#5DD0D9"/>
<line x1="1121.5" y1="1126" x2="1121.5" y2="1602.5" stroke="#222" stroke-width="1.5"/>
<line x1="1121.5" y1="1602.3" x2="1443.9" y2="1602.3" stroke="#222" stroke-width="1.3"/>
<line x1="1121.8" y1="1602.3" x2="1121.8" y2="1608" stroke="#222" stroke-width="1.1"/>
<text x="1121.8" y="1619.8" text-anchor="middle" style="font-size:13px;">0</text>
<line x1="1202.33" y1="1602.3" x2="1202.33" y2="1608" stroke="#222" stroke-width="1.1"/>
<text x="1202.33" y="1619.8" text-anchor="middle" style="font-size:13px;">20</text>
<line x1="1282.86" y1="1602.3" x2="1282.86" y2="1608" stroke="#222" stroke-width="1.1"/>
<text x="1282.86" y="1619.8" text-anchor="middle" style="font-size:13px;">40</text>
<line x1="1363.39" y1="1602.3" x2="1363.39" y2="1608" stroke="#222" stroke-width="1.1"/>
<text x="1363.39" y="1619.8" text-anchor="middle" style="font-size:13px;">60</text>
<line x1="1443.92" y1="1602.3" x2="1443.92" y2="1608" stroke="#222" stroke-width="1.1"/>
<text x="1443.92" y="1619.8" text-anchor="middle" style="font-size:13px;">80</text>
<line x1="1462.9" y1="1602.3" x2="1624.1" y2="1602.3" stroke="#222" stroke-width="1.3"/>
<line x1="1463.03" y1="1602.3" x2="1463.03" y2="1608" stroke="#222" stroke-width="1.1"/>
<text x="1463.03" y="1619.8" text-anchor="middle" style="font-size:13px;">-25</text>
<line x1="1476.47" y1="1602.3" x2="1476.47" y2="1608" stroke="#222" stroke-width="1.1"/>
<text x="1476.47" y="1619.8" text-anchor="middle" style="font-size:13px;">-20</text>
<line x1="1489.9" y1="1602.3" x2="1489.9" y2="1608" stroke="#222" stroke-width="1.1"/>
<text x="1489.9" y="1619.8" text-anchor="middle" style="font-size:13px;">-15</text>
<line x1="1503.33" y1="1602.3" x2="1503.33" y2="1608" stroke="#222" stroke-width="1.1"/>
<text x="1503.33" y="1619.8" text-anchor="middle" style="font-size:13px;">-10</text>
<line x1="1516.77" y1="1602.3" x2="1516.77" y2="1608" stroke="#222" stroke-width="1.1"/>
<text x="1516.77" y="1619.8" text-anchor="middle" style="font-size:13px;">-5</text>
<line x1="1530.2" y1="1602.3" x2="1530.2" y2="1608" stroke="#222" stroke-width="1.1"/>
<text x="1530.2" y="1619.8" text-anchor="middle" style="font-size:13px;">0</text>
<line x1="1543.63" y1="1602.3" x2="1543.63" y2="1608" stroke="#222" stroke-width="1.1"/>
<text x="1543.63" y="1619.8" text-anchor="middle" style="font-size:13px;">5</text>
<line x1="1557.07" y1="1602.3" x2="1557.07" y2="1608" stroke="#222" stroke-width="1.1"/>
<text x="1557.07" y="1619.8" text-anchor="middle" style="font-size:13px;">10</text>
<line x1="1570.5" y1="1602.3" x2="1570.5" y2="1608" stroke="#222" stroke-width="1.1"/>
<text x="1570.5" y="1619.8" text-anchor="middle" style="font-size:13px;">15</text>
<line x1="1583.93" y1="1602.3" x2="1583.93" y2="1608" stroke="#222" stroke-width="1.1"/>
<text x="1583.93" y="1619.8" text-anchor="middle" style="font-size:13px;">20</text>
<line x1="1597.37" y1="1602.3" x2="1597.37" y2="1608" stroke="#222" stroke-width="1.1"/>
<text x="1597.37" y="1619.8" text-anchor="middle" style="font-size:13px;">25</text>
<line x1="1610.8" y1="1602.3" x2="1610.8" y2="1608" stroke="#222" stroke-width="1.1"/>
<text x="1610.8" y="1619.8" text-anchor="middle" style="font-size:13px;">30</text>
<line x1="1624.23" y1="1602.3" x2="1624.23" y2="1608" stroke="#222" stroke-width="1.1"/>
<text x="1624.23" y="1619.8" text-anchor="middle" style="font-size:13px;">35</text>
<text x="1281.9" y="1640.1" text-anchor="middle" style="font-size:17.3px;" stroke="#000" stroke-width="0.45">Proportions(%)</text>
<text x="1543.5" y="1640.1" text-anchor="middle" style="font-size:17.35px;" stroke="#000" stroke-width="0.45">Difference between proportions(%)</text>
<rect x="1752.3" y="1091.2" width="14.3" height="14.2" fill="#F5492F" stroke="#444" stroke-width="0.7"/>
<rect x="1752.3" y="1114.2" width="14.3" height="14.3" fill="#5DD0D9" stroke="#444" stroke-width="0.7"/>
<text x="1770.5" y="1102.8" style="font-size:15.6px;">WD</text>
<text x="1770.5" y="1125.9" style="font-size:15.6px;">LD</text>
<text transform="translate(1752 1363.5) rotate(90)" text-anchor="middle" style="font-size:15.2px;font-family:'Liberation Sans',Arial,sans-serif;">pvalue</text>
</svg>
</body></html>
